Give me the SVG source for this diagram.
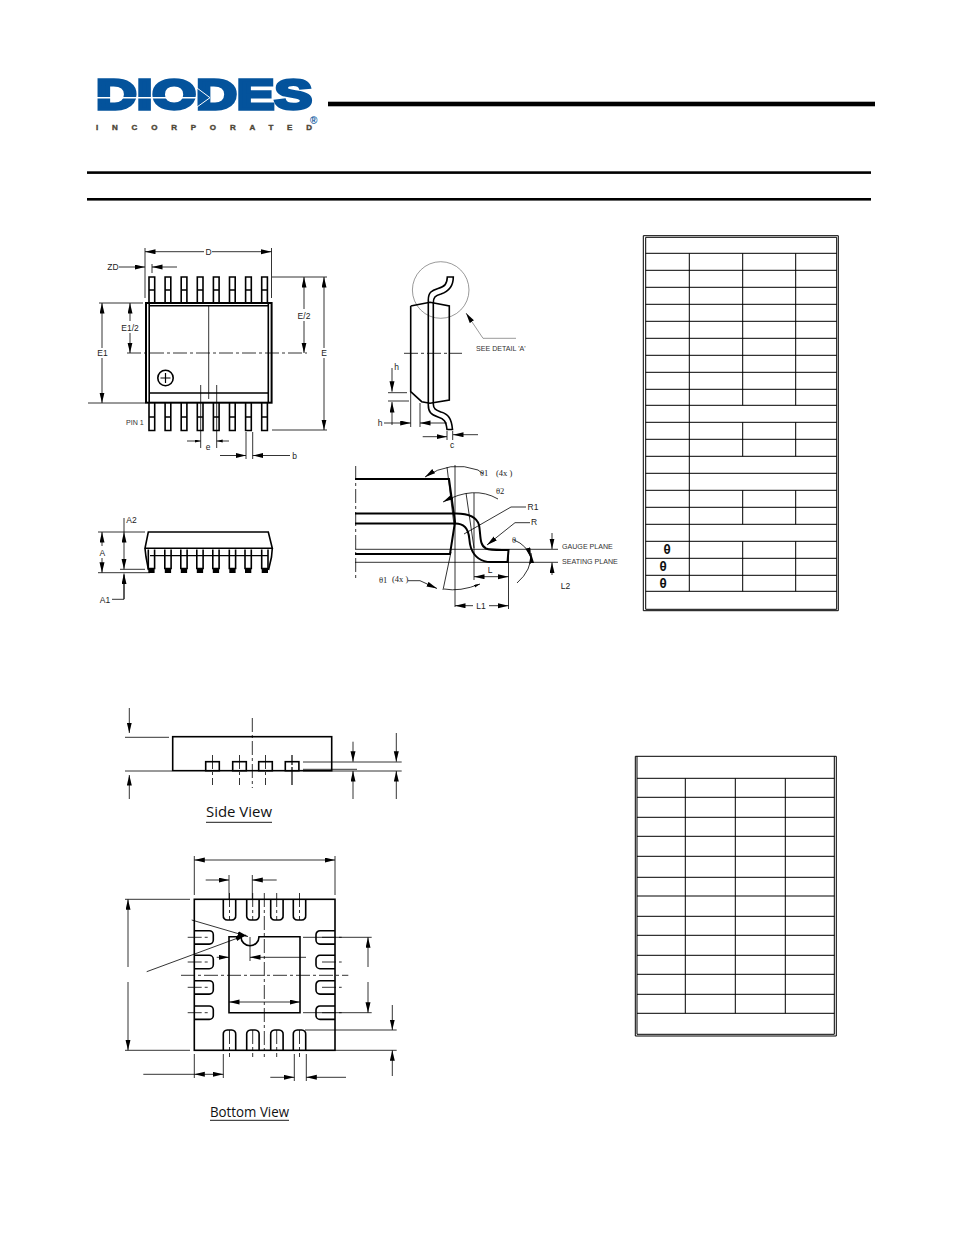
<svg xmlns="http://www.w3.org/2000/svg" width="954" height="1235" viewBox="0 0 954 1235">
<style>
.bg{fill:#fff}
.t{fill:none;stroke:#000;stroke-width:.8}
.m{fill:none;stroke:#000;stroke-width:1.2}
.k{fill:none;stroke:#000;stroke-width:1.6}
.h{fill:none;stroke:#000;stroke-width:2}
.g{fill:none;stroke:#555;stroke-width:.6}
.cl{fill:none;stroke:#000;stroke-width:.8;stroke-dasharray:14 3 3 3}
.a{fill:none;stroke:#000;stroke-width:.8;marker-end:url(#ah)}
.b{fill:none;stroke:#000;stroke-width:.8;marker-start:url(#ah);marker-end:url(#ah)}
.l{font-family:"Liberation Sans",Arial,sans-serif;font-size:8.5px;fill:#222;text-anchor:middle}
.s{font-family:"Liberation Sans",Arial,sans-serif;font-size:7.1px;fill:#333}
.v{font-family:"Open Sans","Noto Sans",sans-serif;font-size:14.5px;fill:#111}
.th{font-family:"Liberation Serif",serif;font-size:8.5px;fill:#222}
.tb{fill:none;stroke:#000;stroke-width:1}
.tt{font-family:"DejaVu Sans Mono",monospace;font-size:12px;font-weight:bold;fill:#111;text-anchor:middle}
</style>
<defs>
<marker id="ah" markerUnits="userSpaceOnUse" markerWidth="12" markerHeight="6" refX="10.5" refY="2.5" orient="auto-start-reverse"><path d="M0 0L10.5 2.5L0 5z" fill="#000"/></marker>
<marker id="hs" markerUnits="userSpaceOnUse" markerWidth="9" markerHeight="4" refX="6" refY="1.5" orient="auto-start-reverse"><path d="M0 0L6 1.5L0 3z" fill="#000"/></marker>
<g id="lt"><path class="k" d="M0 25.5V0H5.7V25.5M0 13H5.7"/></g>
<g id="lb"><path class="k" d="M0 0V27.5H5.7V0M0 14H5.7"/></g>
<g id="le"><path class="k" d="M0 0V19H6.3V0"/><rect x="0" y="19" width="6.3" height="4.5" fill="#000"/></g>
<path id="pt" class="k" d="M0 0V16A4 4 0 0 0 4 20.5H8.4A4 4 0 0 0 12.4 16V0"/>
<path id="pb" class="k" d="M0 20.5V4.5A4 4 0 0 1 4 0H8.4A4 4 0 0 1 12.4 4.5V20.5"/>
<path id="pl" class="k" d="M0 0H15A4 4 0 0 1 19 4V9.4A4 4 0 0 1 15 13.4H0"/>
<path id="pr" class="k" d="M19 0H4A4 4 0 0 0 0 4V9.4A4 4 0 0 0 4 13.4H19"/>
</defs>
<rect class="bg" width="954" height="1235"/>

<g id="logo">
<text x="96" y="108.5" font-family="'Liberation Sans',Arial,sans-serif" font-weight="bold" font-size="43" fill="#04539c" stroke="#04539c" stroke-width="3.4" stroke-linejoin="miter" textLength="216" lengthAdjust="spacingAndGlyphs">DIODES</text>
<path d="M97 97.7H200" stroke="#fff" stroke-width="1.4"/>
<path d="M197 88L210 97.7L197 107z" fill="#04539c" stroke="#fff" stroke-width="1"/>
<text x="96" y="129.5" font-family="'Liberation Sans',Arial,sans-serif" font-weight="bold" font-size="8" fill="#4d4636" stroke="#4d4636" stroke-width=".4" textLength="216" lengthAdjust="spacing">INCORPORATED</text>
<text x="310" y="124" font-family="'Liberation Sans',Arial,sans-serif" font-weight="bold" font-size="10" fill="#04539c">®</text>
</g>
<g id="rules">
<rect x="328" y="101.7" width="547" height="4.6" fill="#000"/>
<rect x="87" y="171.3" width="784" height="2.6" fill="#000"/>
<rect x="87" y="198" width="784" height="2.6" fill="#000"/>
</g>

<g id="top-view">
<use href="#lt" x="149" y="277"/><use href="#lt" x="165.1" y="277"/><use href="#lt" x="181.2" y="277"/><use href="#lt" x="197.3" y="277"/><use href="#lt" x="213.4" y="277"/><use href="#lt" x="229.5" y="277"/><use href="#lt" x="245.6" y="277"/><use href="#lt" x="261.7" y="277"/>
<use href="#lb" x="149" y="403"/><use href="#lb" x="165.1" y="403"/><use href="#lb" x="181.2" y="403"/><use href="#lb" x="197.3" y="403"/><use href="#lb" x="213.4" y="403"/><use href="#lb" x="229.5" y="403"/><use href="#lb" x="245.6" y="403"/><use href="#lb" x="261.7" y="403"/>
<rect class="h" x="146" y="303" width="125.6" height="99.7"/>
<path class="k" d="M149.2 304V402M268.3 304V402M149.2 305.7H268.3M149.2 393H268.3"/>
<circle class="k" cx="165.5" cy="378" r="7.7"/>
<path class="m" d="M160.5 378H170.5M165.5 373V383"/>
<path class="t" d="M208.7 306V399"/>
<path class="cl" d="M127 353H307"/>
<path class="t" d="M145 248V298M271.5 248V298M152 264V273M99 303H143M88 403H145M272 277H327M272 430H327M200.7 385V448M216.7 385V448M246 432V459M252.7 432V459"/>
<path class="t" marker-start="url(#ah)" d="M145 251.7H204"/><path class="t" marker-start="url(#ah)" d="M271.5 251.7H212"/>
<path class="a" d="M119 267H145"/><path class="a" d="M177 267H152"/>
<path class="t" marker-start="url(#ah)" d="M102 303V348"/><path class="t" marker-start="url(#ah)" d="M102 403V358"/>
<path class="t" marker-start="url(#ah)" d="M130 303V321"/><path class="t" marker-start="url(#ah)" d="M130 353V333"/>
<path class="t" marker-start="url(#ah)" d="M304 277V309"/><path class="t" marker-start="url(#ah)" d="M304 353V321"/>
<path class="t" marker-start="url(#ah)" d="M324 277V348"/><path class="t" marker-start="url(#ah)" d="M324 430V358"/>
<path class="t" marker-end="url(#hs)" d="M187 441H200.7"/><path class="t" marker-end="url(#hs)" d="M229 441H216.7"/>
<path class="a" d="M220 455.5H246"/><path class="a" d="M290 455.5H252.7"/>
<text class="l" x="208.5" y="255">D</text><text class="l" x="113" y="270">ZD</text>
<text class="l" x="102.5" y="356">E1</text><text class="l" x="130" y="330.5">E1/2</text>
<text class="l" x="304" y="318.5">E/2</text><text class="l" x="324" y="356">E</text>
<text class="l" x="208" y="449.5">e</text><text class="l" x="294.5" y="459">b</text>
<text class="s" x="126" y="425">PIN 1</text>
</g>

<g id="side-section">
<circle class="g" cx="440.7" cy="290" r="28.3"/>
<path class="k" d="M410.7 306L430 302.3L449.3 306V400L430 403.3L421.7 401.7L410.7 391.7V306"/>
<path class="k" d="M428.3 300C428.3 292 432 290.5 438 288.5C445 286.5 447 284 447.3 277H453.3C453.3 288 447 292 441 294C435 295.5 433.3 297.5 433.3 303V404C433.3 409 436 410 441 412C448 414 451.5 418 452.5 429.5H447C446 421 444 419 438 417C431 414.5 428.3 412 428.3 405Z"/>
<path class="cl" d="M404 353.3H462"/>
<path class="t" d="M388 392.7H407M388 401H409M410.7 392V427M420 403V427M447 431V440M452.7 431V440"/>
<path class="a" d="M392 368V391.7"/><path class="a" d="M392 425V402"/>
<path class="a" d="M384 423H410.7"/><path class="a" d="M447 423H420"/>
<path class="a" d="M422.7 436.7H447"/><path class="a" d="M478 434.7H453"/>
<path d="M516 338.3H483L466 313" class="g" marker-end="url(#ah)"/>
<text class="s" x="476" y="351">SEE DETAIL 'A'</text>
<text class="l" x="396.7" y="370">h</text><text class="l" x="380" y="425.5">h</text><text class="l" x="452" y="448">c</text>
</g>

<g id="elevation">
<use href="#le" x="148.3" y="549.5"/><use href="#le" x="164.8" y="549.5"/><use href="#le" x="180.8" y="549.5"/><use href="#le" x="196.8" y="549.5"/><use href="#le" x="212.8" y="549.5"/><use href="#le" x="229.3" y="549.5"/><use href="#le" x="245" y="549.5"/><use href="#le" x="261.7" y="549.5"/>
<path class="k" d="M148.3 532H268.3L272.3 548.3H145L148.3 532ZM145 548.3L146 557L148.5 570M272.3 548.3L271.5 557L268.5 570"/>
<path class="m" d="M150 555.7H268"/>
<path class="t" d="M98 532H145M98 572.7H150M120 569.3H145M124 518V532M124 575V599.3H112"/>
<path class="t" marker-start="url(#ah)" d="M102 532V546"/><path class="t" marker-start="url(#ah)" d="M102 572.7V558"/>
<path class="b" d="M124 532V569.3"/>
<path class="a" d="M124 599V573.5"/>
<text class="l" x="131.5" y="522.5">A2</text><text class="l" x="102.3" y="556">A</text><text class="l" x="105" y="602.5">A1</text>
</g>

<g id="detail-a">
<path class="h" d="M355 479H449L455 522L450 554H355"/>
<path class="h" d="M355 513.5H456C470 513.5 477 518 479 525C481 535 479 545 486 548.5C491 550.5 500 550 508.5 550L507.5 562H491C480 562 474 556 471 548C468 540 471 533 465 527C461 523.3 458 523.5 455 523.5H355"/>
<path class="t" d="M355 549.3H558M355 562.3H558M455 465V607M474 493V580M508.5 550V609M447 467L454 525M443 590L451 552M466 493L474 548"/>
<path class="cl" d="M355.7 466V580"/>
<path class="t" d="M425 477Q450 460 478 470L483 474" marker-start="url(#ah)"/>
<path class="t" d="M443 502Q474 485 498 499" marker-start="url(#ah)"/>
<path class="t" d="M464 534L511 507H526"/>
<path class="t" marker-start="url(#ah)" d="M487 545L515 522.7H530"/>
<path class="t" marker-start="url(#ah)" d="M531 553Q532 570 517 583"/>
<path class="t" marker-end="url(#ah)" d="M514 540Q527 545 531 558"/>
<path class="t" marker-end="url(#ah)" d="M408 580.7H420L437 588.5"/>
<path class="t" d="M444 589Q460 592 480 584" marker-end="url(#hs)"/>
<path class="b" d="M474 576.7H508.5"/>
<path class="t" marker-start="url(#ah)" d="M455 605.7H473"/><path class="t" marker-start="url(#ah)" d="M508.5 605.7H489"/>
<path class="a" d="M552 533V549"/><path class="a" d="M552 575V562.5"/>
<text class="th" x="480" y="476">θ1</text><text class="th" x="496" y="476">(4x )</text>
<text class="th" x="496" y="494">θ2</text>
<text class="th" x="379" y="583">θ1</text><text class="th" x="392" y="582">(4x )</text>
<text class="th" x="512" y="543">θ</text>
<text class="l" x="533" y="510">R1</text><text class="l" x="534" y="525">R</text>
<text class="l" x="490" y="573">L</text><text class="l" x="481" y="609">L1</text>
<text class="s" x="562" y="549">GAUGE PLANE</text><text class="s" x="562" y="564">SEATING PLANE</text>
<text class="l" x="565.5" y="589">L2</text>
</g>

<g id="table-1">
<path class="tb" d="M643.3 235.7H838.3V610.7H643.3ZM645.7 237.3H836.7V609.3H645.7ZM645.7 253.3H836.7M645.7 270.3H836.7M645.7 287.3H836.7M645.7 304.3H836.7M645.7 321.3H836.7M645.7 338.3H836.7M645.7 355.3H836.7M645.7 372.3H836.7M645.7 389.3H836.7M645.7 405.3H836.7M645.7 422.3H836.7M645.7 439.3H836.7M645.7 456.3H836.7M645.7 473.3H836.7M645.7 490.3H836.7M645.7 507.3H836.7M645.7 524.3H836.7M645.7 541.3H836.7M645.7 558.3H836.7M645.7 575.3H836.7M645.7 591.3H836.7M689.3 253.3V591.3M742.7 253.3V405.3M795.7 253.3V405.3M742.7 422.3V456.3M795.7 422.3V456.3M742.7 490.3V524.3M795.7 490.3V524.3M742.7 541.3V591.3M795.7 541.3V591.3"/>
<text class="tt" x="667" y="553.5">θ</text><text class="tt" x="663" y="570.5">θ</text><text class="tt" x="663" y="587.5">θ</text>
</g>

<g id="table-2">
<path class="tb" d="M635.3 756.3H836.3V1036H635.3ZM637 756.3V1034.3H834.3V756.3M637 778.3H834.3M637 797.3H834.3M637 817.3H834.3M637 836.3H834.3M637 856.3H834.3M637 877.3H834.3M637 896H834.3M637 916.3H834.3M637 935.3H834.3M637 955.3H834.3M637 974.3H834.3M637 994.3H834.3M637 1013.3H834.3M685.3 778.3V1013.3M735.3 778.3V1013.3M785.3 778.3V1013.3"/>
</g>

<g id="side-view">
<rect class="k" x="172.7" y="736.7" width="159" height="34"/>
<g fill="#fff" stroke="#000" stroke-width="1.6"><rect x="205.7" y="761.7" width="13.6" height="9"/><rect x="232.7" y="761.7" width="13.6" height="9"/><rect x="258.7" y="761.7" width="13.6" height="9"/><rect x="285.3" y="761.7" width="13.6" height="9"/></g>
<path class="cl" d="M252.3 718V788"/>
<path class="cl" d="M212.5 755V785M239.5 755V785M265.5 755V785"/><path class="m" d="M292 755V765M292 767V785"/>
<path class="t" d="M125 737.3H169M125 771H172M303 762H401.7M303 769.3H357M303 771H401.7"/>
<path class="a" d="M129.3 708V733"/><path class="a" d="M129.3 799V775"/>
<path class="a" d="M353 741.7V761.7"/><path class="a" d="M353 799V771"/>
<path class="a" d="M396.3 733V761.7"/><path class="a" d="M396.3 799V771"/>
<text class="v" x="206" y="817" textLength="66" lengthAdjust="spacingAndGlyphs">Side View</text>
<path d="M206 822.3H272" stroke="#000" stroke-width=".9"/>
</g>

<g id="bottom-view">
<rect class="k" x="194.3" y="899.3" width="140.7" height="151"/>
<use href="#pt" x="223.3" y="899.5"/><use href="#pt" x="246.7" y="899.5"/><use href="#pt" x="270.7" y="899.5"/><use href="#pt" x="293.3" y="899.5"/>
<use href="#pb" x="223.3" y="1030"/><use href="#pb" x="246.7" y="1030"/><use href="#pb" x="270.7" y="1030"/><use href="#pb" x="293.3" y="1030"/>
<use href="#pl" x="194.3" y="930.7"/><use href="#pl" x="194.3" y="955.3"/><use href="#pl" x="194.3" y="980.7"/><use href="#pl" x="194.3" y="1006"/>
<use href="#pr" x="316" y="930.7"/><use href="#pr" x="316" y="955.3"/><use href="#pr" x="316" y="980.7"/><use href="#pr" x="316" y="1006"/>
<path class="k" d="M229 936.7H241A9 9 0 0 0 259 936.7H300V1012.7H229Z"/>
<path class="cl" d="M264.3 893V1057M181 975.3H348.3"/>
<path class="cl" d="M229.5 893V920M252.7 893V920M276.7 893V920M299.5 893V920M229.5 1030V1057M252.7 1030V1057M276.7 1030V1057M299.5 1030V1057M187.7 937.3H208M187.7 962H208M187.7 987.3H208M187.7 1012.7H208M322 937.3H341.7M322 962H341.7M322 987.3H341.7M322 1012.7H341.7"/>
<path class="t" d="M194.3 856V895M335 856V895M229 875V899M252.3 875V899M125 899.3H190M125 1050.3H190M303 937.3H371.7M303 1012.7H371.7M305 1030H396.7M335 1050.3H396.7M194.3 1054V1078M223.3 1054V1078M294.3 1054V1081M306.3 1054V1081M250 937V961"/>
<path class="b" d="M194.3 860H335"/>
<path class="a" d="M205.7 880H229"/><path class="a" d="M276.7 880H252.3"/>
<path class="t" marker-start="url(#ah)" d="M128 899.3V967"/><path class="t" marker-start="url(#ah)" d="M128 1050.3V982"/>
<path class="t" marker-start="url(#ah)" d="M368 937.3V967"/><path class="t" marker-start="url(#ah)" d="M368 1012.7V982"/>
<path class="a" d="M392.3 1005V1030"/><path class="a" d="M392.3 1076V1050.3"/>
<path class="a" d="M216.7 957.3H229"/><path class="a" d="M306 957.3H250"/>
<path class="b" d="M229 1002H300"/>
<path class="t" d="M143.3 1074.3H194.3"/><path class="b" d="M194.3 1074.3H223.3"/>
<path class="a" d="M270.3 1077.3H294.3"/><path class="a" d="M346 1077.3H306.3"/>
<path class="t" marker-end="url(#ah)" d="M191.7 920L248 936.5"/>
<path class="t" marker-end="url(#ah)" d="M146.7 971.7L246 935"/>
<text class="v" x="210" y="1117" textLength="79" lengthAdjust="spacingAndGlyphs">Bottom View</text>
<path d="M210 1120.3H289" stroke="#000" stroke-width=".9"/>
</g>
</svg>
